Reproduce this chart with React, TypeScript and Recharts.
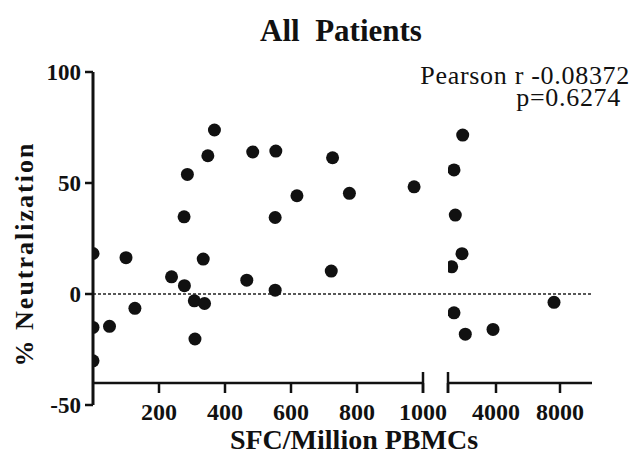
import React from "react";
import { ScatterChart, Scatter, XAxis, YAxis, ReferenceLine } from "recharts";

const FONT = '"Liberation Serif", "Times New Roman", serif';
const INK = "#111";

// SFC per million PBMCs vs % neutralization, low-response range (0-1000)
const lowSfc = [0, 0, 0, 50, 100, 127, 238, 276, 286, 277, 307, 309, 334, 338, 348, 368, 466, 484, 554, 552, 552, 618, 726, 722, 777, 973];
const lowNeut = [18.3, -15, -30, -14.5, 16.4, -6.4, 7.8, 34.8, 53.9, 3.8, -3, -20.2, 15.8, -4.2, 62.3, 73.9, 6.3, 64, 64.4, 34.5, 1.8, 44.3, 61.4, 10.4, 45.4, 48.3];

// high-response range (1000-10000), drawn on the segment after the axis break
const highSfc = [1919, 1375, 1456, 1875, 1231, 7625, 1375, 2081, 3813];
const highNeut = [71.6, 55.9, 35.6, 18.2, 12.3, -3.7, -8.4, -18, -15.9];

const yTicks = [-50, 0, 50, 100];
const lowTicks = [200, 400, 600, 800, 1000];
const highTicks = [1000, 4000, 8000];

const lowData = lowSfc.map((x, i) => ({ x, y: lowNeut[i] }));
const highData = highSfc.map((x, i) => ({ x, y: highNeut[i] }));

const W = 639;
const H = 456;

const layer: React.CSSProperties = { position: "absolute", left: 0, top: 0 };

const Dot = (p: any) => <circle cx={p.cx} cy={p.cy} r={6.5} fill={INK} />;

// tick renderer for a broken-axis segment; `cap` draws the end bar at the break
function SegmentTick(props: any) {
  const { x, y, payload, cap, showLabel } = props;
  const v = payload.value;
  return (
    <g>
      {v === cap && <line x1={x} x2={x} y1={y - 21} y2={y} stroke={INK} strokeWidth={2.5} />}
      {showLabel(v) && (
        <text x={x} y={y + 27} textAnchor="middle" fill={INK} fontSize={24} fontWeight="bold" fontFamily={FONT}>
          {v}
        </text>
      )}
    </g>
  );
}

function Segment({ data, domain, ticks, left, right, cap, showLabel }: any) {
  return (
    <div style={layer}>
      <ScatterChart width={W} height={H} margin={{ top: 72, right, bottom: 33, left }}>
        <XAxis
          type="number"
          dataKey="x"
          domain={domain}
          allowDataOverflow
          ticks={ticks}
          interval={0}
          height={40}
          axisLine={{ stroke: INK, strokeWidth: 2.5 }}
          tickLine={{ stroke: INK, strokeWidth: 2.5 }}
          tickSize={10}
          tickMargin={0}
          tick={<SegmentTick cap={cap} showLabel={showLabel} />}
        />
        <YAxis type="number" dataKey="y" domain={[-40, 100]} allowDataOverflow hide width={0} />
        <Scatter data={data} fill={INK} shape={Dot} isAnimationActive={false} />
      </ScatterChart>
    </div>
  );
}

export default function App() {
  return (
    <div style={{ position: "absolute", left: 0, top: 0, width: W, height: H, background: "#fff" }}>
      {/* y axis frame and dotted zero line across both segments */}
      <div style={layer}>
        <ScatterChart width={W} height={H} margin={{ top: 72, right: 47, bottom: 51, left: 10 }}>
          <XAxis type="number" dataKey="x" domain={[0, 1]} allowDataOverflow hide height={0} />
          <YAxis
            type="number"
            dataKey="y"
            domain={[-50, 100]}
            allowDataOverflow
            ticks={yTicks}
            interval={0}
            width={83}
            axisLine={{ stroke: INK, strokeWidth: 3 }}
            tickLine={{ stroke: INK, strokeWidth: 2.5 }}
            tickSize={8}
            tickMargin={4}
            tick={{ fill: INK, fontSize: 23, fontWeight: "bold", fontFamily: FONT }}
          />
          <ReferenceLine y={0} stroke="#222" strokeWidth={1.5} strokeDasharray="3 2" ifOverflow="visible" />
        </ScatterChart>
      </div>

      <Segment data={lowData} domain={[0, 1000]} ticks={lowTicks} left={93} right={216} cap={1000} showLabel={() => true} />
      <Segment data={highData} domain={[1000, 10000]} ticks={highTicks} left={448} right={47} cap={1000} showLabel={(v: number) => v !== 1000} />

      <svg width={W} height={H} style={{ ...layer, pointerEvents: "none" }}>
        <text x={341} y={41} textAnchor="middle" fontSize={31} fontWeight="bold" fontFamily={FONT} fill={INK} style={{ whiteSpace: "pre" }}>
          {"All  Patients"}
        </text>
        <text x={630} y={84} textAnchor="end" fontSize={26} fontFamily={FONT} fill={INK} letterSpacing={0.7}>
          Pearson r -0.08372
        </text>
        <text x={621} y={106} textAnchor="end" fontSize={26} fontFamily={FONT} fill={INK} letterSpacing={0.7}>
          p=0.6274
        </text>
        <text x={354} y={449} textAnchor="middle" fontSize={28} fontWeight="bold" fontFamily={FONT} fill={INK}>
          SFC/Million PBMCs
        </text>
        <text
          x={33}
          y={254}
          transform="rotate(-90 33 254)"
          textAnchor="middle"
          fontSize={26}
          fontWeight="bold"
          fontFamily={FONT}
          fill={INK}
          letterSpacing={2}
        >
          % Neutralization
        </text>
      </svg>
    </div>
  );
}
